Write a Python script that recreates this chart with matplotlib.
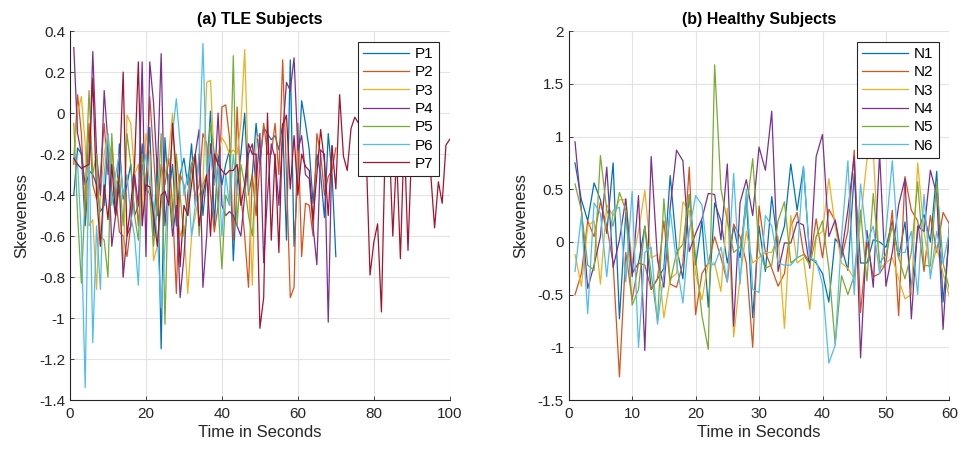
import matplotlib
matplotlib.use("Agg")
import matplotlib.pyplot as plt

plt.rcParams['font.family'] = ['Liberation Sans', 'DejaVu Sans']
plt.rcParams['axes.unicode_minus'] = False

# MATLAB default colour order
colors = ['#0072BD', '#D95319', '#EDB120', '#7E2F8E', '#77AC30', '#4DBEEE', '#A2142F']

# (a) TLE subjects - skewness per second
P1 = [-0.4, -0.17, -0.2, -0.55, -0.28, -0.3, -0.35, -0.48, -0.45, -0.12,
      -0.38, -0.5, -0.15, -0.42, -0.35, -0.25, -0.5, -0.45, -0.15, -0.38,
      -0.07, -0.6, -0.22, -1.15, -0.12, -0.4, -0.25, -0.55, -0.3, -0.22,
      -0.35, -0.15, -0.45, -0.2, -0.5, -0.3, 0.01, -0.55, -0.2, -0.35,
      -0.25, -0.18, -0.72, -0.35, -0.2, 0.0, -0.4, -0.3, -0.05, -0.25,
      -0.07, -0.1, -0.13, -0.11, -0.18, -0.05, -0.62, 0.26, -0.65, -0.3,
      0.06, -0.05, -0.18, -0.44, -0.2, -0.3, -0.51, -0.1, -0.3, -0.7]
P2 = [-0.25, 0.09, -0.1, -0.5, -0.05, -0.35, -0.42, -0.3, -0.05, -0.3,
      -0.15, -0.4, -0.58, -0.6, -0.7, -0.55, -0.3, -0.55, -0.25, -0.35,
      0.08, -0.2, -0.5, -0.25, -0.35, -0.22, -0.45, -0.88, -0.3, -0.35,
      -0.5, -0.25, -0.42, -0.35, -0.1, -0.15, -0.4, -0.58, -0.45, 0.03,
      0.04, -0.12, -0.62, 0.03, -0.4, -0.6, -0.85, -0.3, -0.5, -0.25,
      -0.05, -0.2, -0.2, -0.05, -0.3, 0.26, -0.3, -0.9, -0.85, -0.05,
      -0.7, -0.44, -0.45, -0.6, -0.1, -0.2, -0.4, -0.31, -0.28, -0.17]
P3 = [-0.2, 0.0, 0.08, -0.15, -0.55, -0.52, -0.86, -0.4, -0.2, -0.1,
      -0.25, -0.35, -0.3, -0.8, -0.01, -0.05, -0.3, -0.25, -0.5, -0.1,
      -0.2, -0.72, -0.65, -0.45, -0.3, -0.2, 0.0, -0.45, -0.6, -0.55,
      -0.88, -0.6, -0.5, -0.4, -0.35, 0.15, 0.16, -0.25, -0.2, -0.12,
      -0.15, -0.2, -0.18, -0.2, -0.05, 0.31, -0.3, -0.84, -0.13, -0.1]
P4 = [0.32, -0.1, -0.2, -0.35, -0.3, 0.3, -0.2, -0.4, 0.11, -0.15,
      -0.65, -0.5, -0.35, -0.8, -0.6, -0.55, -0.3, -0.45, 0.25, -0.7,
      0.25, 0.05, -0.3, 0.29, -0.55, -0.35, -0.6, -0.45, -0.9, -0.7,
      -0.4, -0.25, -0.2, -0.08, -0.85, -0.6, -0.15, -0.35, 0.0, -0.45,
      -0.5, -0.48, -0.5, -0.55, -0.6, -0.4, -0.2, -0.15, -0.35, -0.1,
      -0.73, -0.4, -0.15, -0.22, -0.45, -0.1, 0.15, 0.11, 0.27, -0.18,
      -0.11, -0.3, -0.32, -0.55, -0.74, -0.18, -0.2, -1.02, -0.16]
P5 = [-0.05, -0.5, -0.83, -0.4, 0.11, -0.3, -0.2, -0.6, -0.62, -0.8,
      -0.1, -0.45, -0.3, -0.55, -0.1, -0.25, -0.5, -0.62, -0.2, -0.35,
      -0.4, -0.65, -0.45, -0.1, -1.03, -0.3, -0.55, -0.2, -0.4, -0.6,
      -0.45, -0.25, -0.2, -0.6, -0.35, -0.3, -0.05, -0.2, -0.45, -0.76,
      -0.4, -0.45, 0.28, -0.55, -0.25, -0.35, -0.5, -0.6, -0.3]
P6 = [-0.2, -0.25, -0.6, -1.34, -0.15, -1.12, -0.55, -0.86, -0.3, -0.1,
      -0.45, -0.3, -0.2, -0.4, -0.3, -0.5, -0.6, -0.84, -0.3, -0.2,
      -0.35, -0.45, -0.6, -0.95, -0.65, -0.35, -0.1, 0.07, -0.15, -0.4,
      -0.3, -0.6, -0.45, -0.2, 0.34, -0.3, -0.2, -0.35, -0.25, -0.6,
      -0.3, -0.45, -0.2, -0.4]
P7 = [-0.22, -0.25, -0.27, -0.26, -0.25, 0.17, -0.4, -0.65, -0.35, -0.52,
      -0.25, -0.5, -0.3, 0.2, -0.6, -0.45, -0.25, 0.25, -0.55, -0.35,
      -0.36, -0.5, -0.65, -0.4, -0.38, -0.45, -0.05, -0.3, -0.75, -0.45,
      -0.5, -0.35, -0.2, -0.55, -0.4, -0.3, -0.6, -0.2, -0.25, -0.28,
      -0.3, -0.28, -0.28, -0.25, -0.45, -0.35, -0.15, -0.2, -0.2, -1.05,
      -0.9, 0.0, -0.62, -0.2, -0.68, -0.06, -0.01, -0.37, -0.11, -0.4,
      -0.2, -0.26, -0.28, -0.52, -0.3, -0.08, -0.24, -0.5, -0.16, -0.37,
      0.09, -0.21, -0.28, -0.075, -0.02, -0.05, -0.17, -0.2, -0.79, -0.63,
      -0.54, -0.97, -0.15, -0.1, -0.6, -0.2, -0.71, -0.1, -0.67, -0.15,
      -0.1, -0.05, -0.2, -0.1, -0.3, -0.56, -0.335, -0.44, -0.156, -0.128]

# (b) Healthy subjects
N1 = [0.75, 0.4, 0.2, 0.56, 0.4, 0.08, 0.75, -0.73, 0.28, -0.3,
      -0.2, 0.15, -0.45, -0.35, -0.25, 0.63, -0.05, -0.35, 0.45, -0.22,
      0.2, -0.62, 0.37, 0.2, -0.2, 0.15, -0.15, 0.43, -0.72, 0.15,
      -0.28, 0.43, -0.05, 0.15, 0.74, 0.3, 0.71, -0.15, -0.2, -0.3,
      -0.57, 0.03, -0.05, -0.27, 0.65, -0.2, -0.2, 0.02, 0.0, -0.05,
      0.2, -0.15, 0.19, -0.45, 0.1, 0.26, 0.0, 0.67, -0.57, 0.05]
N2 = [-0.5, -0.3, 0.2, 0.05, 0.38, 0.15, -0.2, -1.28, -0.1, -0.55,
      -0.2, -0.22, -0.45, -0.35, 0.2, -0.4, -0.43, -0.2, 0.71, -0.69,
      -0.3, -0.2, 0.05, -0.15, -0.38, 0.17, 0.05, -0.2, -1.0, 0.34,
      -0.1, -0.25, -0.42, -0.3, 0.15, 0.28, -0.1, -0.2, 0.22, -0.15,
      0.31, 0.2, -0.15, 0.1, 0.87, -0.67, 0.0, -0.33, -0.3, -0.2,
      0.3, -0.7, 0.62, 0.3, 0.2, -0.28, 0.25, -0.1, 0.28, 0.17]
N3 = [-0.12, -0.42, 0.15, 0.2, -0.4, 0.35, 0.25, 0.4, 0.4, -0.2,
      0.1, 0.49, -0.15, -0.12, -0.72, -0.35, -0.3, 0.38, 0.3, -0.3,
      -0.55, -0.2, -0.2, -0.47, 0.32, -0.9, -0.35, 0.1, -0.2, -0.15,
      -0.1, -0.1, 0.05, -0.82, 0.25, -0.2, -0.15, -0.64, 0.05, 0.1,
      0.6, 0.15, -0.2, -0.25, -0.35, 0.2, 0.78, 0.85, -0.25, -0.2,
      -0.15, -0.35, -0.54, -0.5, 0.75, 0.1, -0.3, -0.05, -0.3, -0.52]
N4 = [0.95, 0.3, -0.44, -0.22, 0.05, 0.71, -0.24, 0.02, 0.41, -0.33,
      0.44, -1.03, 0.81, -0.17, -0.43, 0.33, 0.87, 0.77, -0.09, 0.08,
      0.22, 0.46, 0.45, 0.02, 0.74, -0.8, 0.37, 0.59, 0.25, 0.9,
      0.68, 1.24, -0.28, -0.01, -0.01, 0.19, 0.16, -0.25, 0.81, 1.02,
      0.05, 0.21, -0.11, 0.3, 0.81, -1.1, 0.11, -0.43, 0.84, -0.42,
      -0.1, 0.35, 0.6, -0.73, 0.15, 0.1, 0.68, 0.45, -0.83, 0.18]
N5 = [0.55, 0.3, -0.22, -0.27, 0.82, 0.3, 0.15, 0.47, 0.3, -0.6,
      -0.45, 0.15, -0.3, -0.75, 0.41, -0.38, -0.1, -0.02, 0.45, -0.15,
      -0.7, -1.02, 1.68, 0.5, 0.2, -0.1, -0.05, 0.3, 0.79, -0.08,
      -0.25, -0.22, 0.2, 0.38, -0.2, -0.15, -0.12, -0.22, 0.05, 0.2,
      -0.25, -0.97, -0.32, -0.5, -0.32, 0.3, -0.37, 0.46, -0.2, -0.12,
      0.15, -0.15, -0.35, -0.1, 0.57, -0.22, -0.23, 0.57, -0.2, -0.45]
N6 = [-0.28, 0.25, -0.68, 0.37, 0.27, -0.33, 0.3, 0.33, -0.38, 0.48,
      -1.0, -0.1, -0.05, -0.78, -0.3, 0.3, -0.2, -0.58, 0.1, 0.44,
      0.35, -0.2, -0.22, -0.05, -0.38, 0.65, -0.4, 0.5, -0.45, -0.48,
      0.25, 0.15, -0.2, -0.22, -0.22, -0.15, 0.72, -0.15, -0.18, -0.4,
      -1.15, -0.98, 0.05, 0.77, -0.5, 0.55, 0.0, 0.15, -0.3, 0.1,
      0.77, -0.1, -0.1, 0.1, -0.5, 0.45, -0.35, 0.1, -0.2, 0.1]

tle = {'P1': P1, 'P2': P2, 'P3': P3, 'P4': P4, 'P5': P5, 'P6': P6, 'P7': P7}
healthy = {'N1': N1, 'N2': N2, 'N3': N3, 'N4': N4, 'N5': N5, 'N6': N6}

fig = plt.figure(figsize=(9.59, 4.51), dpi=100)
ax1 = fig.add_axes([0.073, 0.113, 0.396, 0.818])
ax2 = fig.add_axes([0.593, 0.113, 0.397, 0.818])


def style(ax, title, xlim, ylim, yticks, yticklabels):
    ax.set_xlim(*xlim)
    ax.set_ylim(*ylim)
    ax.set_yticks(yticks)
    ax.set_yticklabels(yticklabels)
    ax.grid(True, color='#e3e3e3', linewidth=0.8)
    ax.set_axisbelow(True)
    for s in ['top', 'right']:
        ax.spines[s].set_visible(False)
    for s in ['left', 'bottom']:
        ax.spines[s].set_color('#262626')
        ax.spines[s].set_linewidth(0.8)
    ax.tick_params(direction='in', length=3, width=0.6, colors='#262626',
                   labelsize=11, labelcolor='#262626')
    ax.tick_params(axis='x', pad=5)
    ax.set_title(title, fontsize=11.5, fontweight='bold', color='black', pad=5)
    ax.set_xlabel('Time in Seconds', fontsize=12, color='#262626', labelpad=3)
    ax.set_ylabel('Skeweness', fontsize=12, color='#262626', labelpad=7)
    leg = ax.legend(loc='upper right', fontsize=11, fancybox=False, framealpha=1,
                    edgecolor='#262626', handlelength=3.0, handletextpad=0.4,
                    borderpad=0.35, labelspacing=0.28, borderaxespad=0.7)
    leg.get_frame().set_linewidth(0.8)


for i, (name, vals) in enumerate(tle.items()):
    ax1.plot(range(1, len(vals) + 1), vals, color=colors[i], lw=0.9, label=name)
for i, (name, vals) in enumerate(healthy.items()):
    ax2.plot(range(1, len(vals) + 1), vals, color=colors[i], lw=0.9, label=name)

style(ax1, '(a) TLE Subjects', (0, 100), (-1.4, 0.4),
      [-1.4, -1.2, -1.0, -0.8, -0.6, -0.4, -0.2, 0, 0.2, 0.4],
      ['-1.4', '-1.2', '-1', '-0.8', '-0.6', '-0.4', '-0.2', '0', '0.2', '0.4'])
ax1.set_xticks([0, 20, 40, 60, 80, 100])
style(ax2, '(b) Healthy Subjects', (0, 60), (-1.5, 2),
      [-1.5, -1, -0.5, 0, 0.5, 1, 1.5, 2],
      ['-1.5', '-1', '-0.5', '0', '0.5', '1', '1.5', '2'])
ax2.set_xticks([0, 10, 20, 30, 40, 50, 60])

fig.savefig('out.png', dpi=100)
